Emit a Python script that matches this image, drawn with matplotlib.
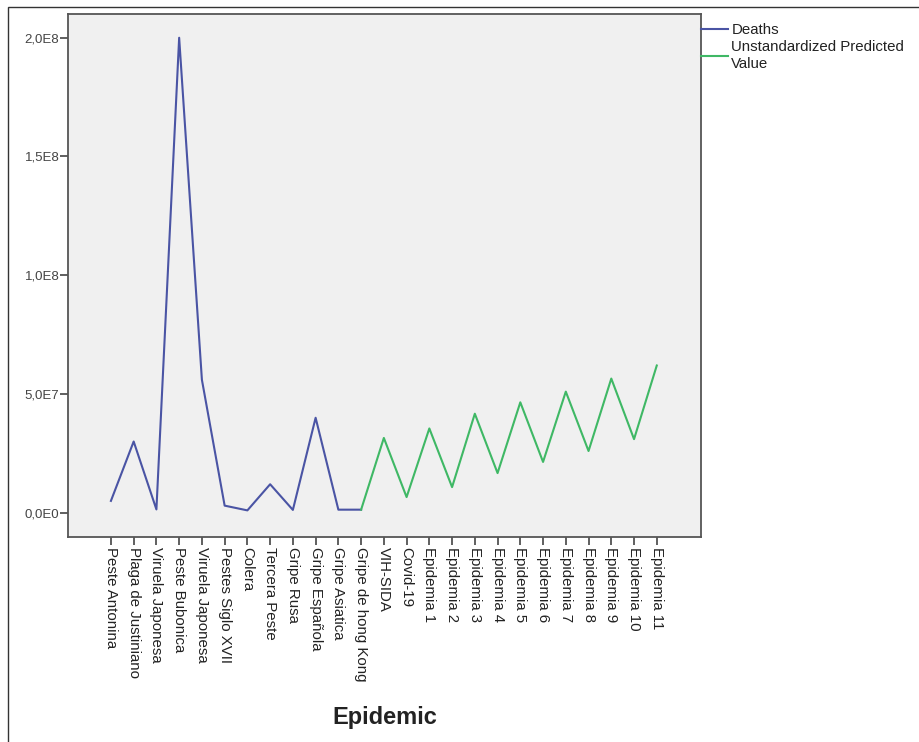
import numpy as np
import matplotlib
matplotlib.use("Agg")
import matplotlib.pyplot as plt
from matplotlib.patches import Rectangle
from matplotlib.ticker import FuncFormatter

# Categories along the x axis
epidemics = ["Peste Antonina", "Plaga de Justiniano", "Viruela Japonesa",
             "Peste Bubonica", "Viruela Japonesa", "Pestes Siglo XVII",
             "Colera", "Tercera Peste", "Gripe Rusa", "Gripe Española",
             "Gripe Asiatica", "Gripe de hong Kong", "VIH-SIDA", "Covid-19",
             "Epidemia 1", "Epidemia 2", "Epidemia 3", "Epidemia 4",
             "Epidemia 5", "Epidemia 6", "Epidemia 7", "Epidemia 8",
             "Epidemia 9", "Epidemia 10", "Epidemia 11"]

# Observed deaths (historical epidemics)
deaths = [5.0e6, 3.0e7, 1.4e6, 2.0e8, 5.6e7, 3.0e6, 1.0e6, 1.2e7,
          1.2e6, 4.0e7, 1.3e6, 1.3e6]

# Unstandardized predicted value (starts at Gripe de hong Kong)
predicted = [1.3e6, 3.15e7, 6.6e6, 3.55e7, 1.08e7, 4.17e7, 1.67e7,
             4.65e7, 2.14e7, 5.1e7, 2.6e7, 5.65e7, 3.1e7, 6.2e7]

x = np.arange(len(epidemics))
x_deaths = x[:len(deaths)]
x_pred = x[len(deaths) - 1:]

fig = plt.figure(figsize=(9.2, 7.42), dpi=100)
fig.patch.set_facecolor("white")

# outer frame around the whole chart
fig.add_artist(Rectangle((8 / 920, -0.01), 1.0, 1 - 7 / 742 + 0.01,
                         transform=fig.transFigure, fill=False,
                         edgecolor="#333333", linewidth=1.0))

ax = fig.add_axes([0.0736, 0.2763, 0.688, 0.7042])
ax.set_facecolor("#f0f0f0")

ax.plot(x_deaths, deaths, color="#4a54a4", linewidth=1.5, label="Deaths")
ax.plot(x_pred, predicted, color="#3fb865", linewidth=1.5,
        label="Unstandardized Predicted\nValue")

ax.set_xlim(-1.9, 25.93)
ax.set_ylim(-1.02e7, 2.098e8)

ax.set_yticks([0, 5e7, 1e8, 1.5e8, 2e8])


def sci_comma(v, pos):
    if v == 0:
        return "0,0E0"
    exp = int(np.floor(np.log10(abs(v))))
    mant = v / 10 ** exp
    return f"{mant:.1f}".replace(".", ",") + f"E{exp}"


ax.yaxis.set_major_formatter(FuncFormatter(sci_comma))
ax.set_xticks(x)
ax.set_xticklabels(epidemics, rotation=270, ha="center", va="top",
                   fontsize=10.8, family="Liberation Sans", color="#222222")
for lab in ax.get_yticklabels():
    lab.set_fontsize(9.5)
    lab.set_family("Liberation Sans")
    lab.set_color("#444444")

ax.tick_params(axis="both", direction="out", length=5.5, width=1.2,
               color="#444444")
ax.tick_params(axis="y", pad=0.5)
ax.tick_params(axis="x", pad=2)

for side in ["left", "bottom", "right", "top"]:
    ax.spines[side].set_color("#555555")
    ax.spines[side].set_linewidth(1.3)

ax.set_xlabel("Epidemic", fontsize=17, fontweight="bold",
              family="Liberation Sans", color="#222222")
ax.xaxis.set_label_coords(385 / 920, 36 / 742, transform=fig.transFigure)

leg = ax.legend(loc="upper left", bbox_to_anchor=(1.0, 0.983),
                frameon=False, handlelength=1.85,
                handletextpad=0.2, borderaxespad=0.0, borderpad=0.0,
                labelspacing=0.2, prop={"family": "Liberation Sans", "size": 10.8})
for t in leg.get_texts():
    t.set_color("#222222")

fig.savefig("out.png", dpi=100)
